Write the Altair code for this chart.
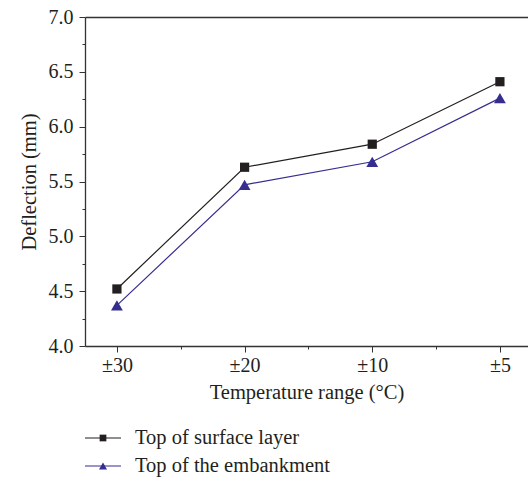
import altair as alt
import pandas as pd

categories = ["±30", "±20", "±10", "±5"]
positions = [0, 1, 2, 3]
series_names = ["Top of surface layer", "Top of the embankment"]
surface = [4.52, 5.63, 5.84, 6.41]
embankment = [4.37, 5.47, 5.68, 6.26]

x_major = [0, 1, 2, 3]
x_minor = [0.5, 1.5, 2.5]
y_major = [4.0, 4.5, 5.0, 5.5, 6.0, 6.5, 7.0]
y_minor = [4.25, 4.75, 5.25, 5.75, 6.25, 6.75]

colors = ["#231f20", "#352d8f"]
shapes = ["square", "triangle-up"]
FONT = "Liberation Serif"

df = pd.DataFrame({
    "pos": positions * 2,
    "cat": categories * 2,
    "value": surface + embankment,
    "series": [series_names[0]] * 4 + [series_names[1]] * 4,
})

label_expr = "[" + ",".join(f"'{c}'" for c in categories) + "][datum.value]"

xscale = alt.Scale(domain=[-0.25, 3.22], nice=False, zero=False)
yscale = alt.Scale(domain=[4.0, 7.0], nice=False, zero=False)
cscale = alt.Scale(domain=series_names, range=colors)
sscale = alt.Scale(domain=series_names, range=shapes)

axis_common = dict(labelFont=FONT, titleFont=FONT, labelFontSize=20, titleFontSize=20.5,
                   titleFontWeight="normal", labelColor="#231f20", titleColor="#231f20",
                   domainColor="#333333", tickColor="#333333", grid=False, domainWidth=1.3)

def layer_for(idx, x_axis, y_axis):
    d = df[df["series"] == series_names[idx]]
    base = alt.Chart(d)
    line = base.mark_line(strokeWidth=1.2, clip=False).encode(
        x=alt.X("pos:Q", scale=xscale, axis=x_axis),
        y=alt.Y("value:Q", scale=yscale, axis=y_axis),
        color=alt.Color("series:N", scale=cscale, legend=None),
    )
    pts = base.mark_point(filled=True, opacity=1, size=85 if idx == 0 else 140).encode(
        x=alt.X("pos:Q", scale=xscale, axis=None),
        y=alt.Y("value:Q", scale=yscale, axis=None),
        color=alt.Color("series:N", scale=cscale, legend=None),
        shape=alt.Shape("series:N", scale=sscale, legend=None),
    )
    return line, pts

x_main = alt.Axis(values=x_major, labelExpr=label_expr, title="Temperature range (°C)",
                  tickSize=6, labelPadding=3, titlePadding=7, orient="bottom", **axis_common)
y_main = alt.Axis(values=y_major, format=".1f", title="Deflection (mm)", tickSize=6,
                  labelPadding=6, titlePadding=9, orient="left", **axis_common)
x_min = alt.Axis(values=x_minor, labels=False, title=None, tickSize=3, domain=False,
                 orient="bottom", tickColor="#333333", grid=False)
y_min = alt.Axis(values=y_minor, labels=False, title=None, tickSize=3, domain=False,
                 orient="left", tickColor="#333333", grid=False)

l1, p1 = layer_for(0, x_main, y_main)
l2, p2 = layer_for(1, x_min, y_min)

# top border line via a top axis with only its domain
top_border = alt.Chart(df.head(1)).mark_point(opacity=0).encode(
    x=alt.X("pos:Q", scale=xscale, axis=alt.Axis(orient="top", labels=False, ticks=False,
                                                  title=None, domainColor="#333333",
                                                  domainWidth=1.3, grid=False)),
    y=alt.Y("value:Q", scale=yscale, axis=None),
)

legend_layers = []
for i, name in enumerate(series_names):
    ld = pd.DataFrame({"series": [name]})
    ypix = 438 - 17 + 28 * i
    lb = alt.Chart(ld)
    legend_layers.append(lb.mark_rule(strokeWidth=1.2).encode(
        x=alt.value(85 - 85), x2=alt.value(121 - 85), y=alt.value(ypix),
        color=alt.Color("series:N", scale=cscale, legend=None)))
    legend_layers.append(lb.mark_point(filled=True, opacity=1, size=45 if i == 0 else 65).encode(
        x=alt.value(103 - 85), y=alt.value(ypix),
        color=alt.Color("series:N", scale=cscale, legend=None),
        shape=alt.Shape("series:N", scale=sscale, legend=None)))
    legend_layers.append(lb.mark_text(align="left", baseline="middle", font=FONT, fontSize=20.5,
                                      color="#231f20").encode(
        x=alt.value(135 - 85), y=alt.value(ypix), text="series:N"))

chart = alt.layer(l1, l2, p1, p2, top_border, *legend_layers).resolve_axis(
    x="independent", y="independent"
).resolve_scale(x="shared", y="shared").properties(
    width=443, height=329,
    padding={"left": 85, "top": 17, "right": 0, "bottom": 134},
    autosize=alt.AutoSizeParams(type="none"),
    background="white",
).configure_view(stroke=None)

chart.save("out.html", embed_options={"renderer": "svg", "actions": False})
